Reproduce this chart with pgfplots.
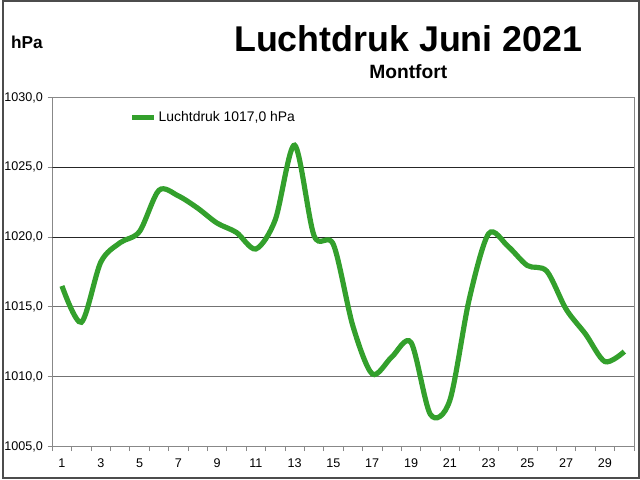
\documentclass[border=0pt]{standalone}
\usepackage{fontspec}
\setmainfont{Liberation Sans}
\usepackage{pgfplots}
\pgfplotsset{compat=1.18}
\definecolor{lijn}{RGB}{51,160,44}
\definecolor{rand}{RGB}{136,136,136}
\begin{document}
\begin{tikzpicture}
  % canvas: 640x480 px at 0.75pt per px
  \draw[black!70, line width=1.5pt] (0pt,0pt) rectangle (480pt,360pt);
  \begin{axis}[
      at={(37.5pt,24pt)}, anchor=south west,
      scale only axis, width=438.75pt, height=263.25pt,
      xmin=0.5, xmax=30.5, ymin=1005, ymax=1030,
      xtick={1,3,...,29}, major x tick style={draw=none},
      minor xtick={0.5,1.5,...,30.5},
      ytick={1005,1010,...,1030},
      xtick pos=bottom, ytick pos=left,
      tick align=outside, major tick length=3.5pt, minor tick length=3.5pt,
      tick style={rand, line width=0.6pt},
      axis line style={rand, line width=0.8pt},
      ymajorgrids, grid style={black!55, line width=0.8pt},
      ticklabel style={font=\fontsize{9.5}{11}\selectfont},
      /pgf/number format/assume math mode=true,
      yticklabel style={/pgf/number format/.cd, fixed, fixed zerofill,
                        precision=1, use comma, 1000 sep={}},
      xticklabel style={yshift=-2pt},
      legend style={at={(0.133,0.943)}, anchor=west, draw=none, fill=none,
                    inner sep=0pt, font=\fontsize{10.5}{12}\selectfont},
      legend image code/.code={\draw[#1, line width=3.75pt] (0pt,0pt) -- (16pt,0pt);},
    ]
    \draw[black!85, line width=0.8pt] (axis cs:0.5,1025) -- (axis cs:30.5,1025);
    \draw[black!85, line width=0.8pt] (axis cs:0.5,1020) -- (axis cs:30.5,1020);
    \addplot[lijn, line width=3.9pt, smooth, tension=0.5] coordinates {
      (1,1016.5) (2,1013.9) (3,1018.2) (4,1019.6) (5,1020.4)
      (6,1023.35) (7,1022.95) (8,1022.07) (9,1021.0) (10,1020.33)
      (11,1019.15) (12,1021.24) (13,1026.58) (14,1020.1) (15,1019.46)
      (16,1013.64) (17,1010.2) (18,1011.4) (19,1012.45) (20,1007.3)
      (21,1008.3) (22,1015.54) (23,1020.24) (24,1019.34) (25,1017.96)
      (26,1017.56) (27,1014.83) (28,1013.05) (29,1011.08) (30,1011.8)
    };
    \addlegendentry{Luchtdruk 1017,0 hPa}
  \end{axis}
  \node[font=\fontsize{27}{30}\bfseries] at (306pt,331.5pt) {Luchtdruk Juni 2021};
  \node[font=\fontsize{14.5}{17}\bfseries] at (306pt,306.75pt) {Montfort};
  \node[font=\fontsize{13}{15}\bfseries] at (18.4pt,328.5pt) {hPa};
\end{tikzpicture}
\end{document}
